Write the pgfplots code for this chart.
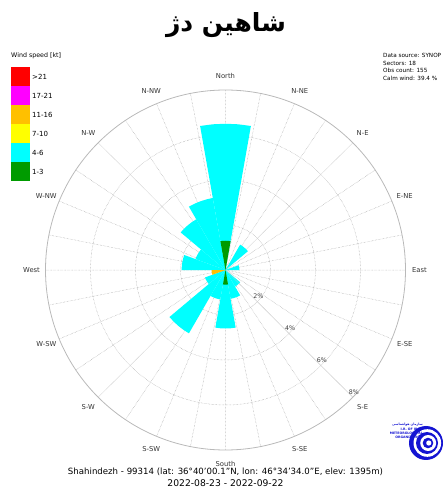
\documentclass[border=0pt]{standalone}
\usepackage{fontspec}
\setmainfont{DejaVu Sans}
\newfontfamily\arabicfont[Script=Arabic]{DejaVu Sans}
\TeXXeTstate=1
\usepackage{pgfplots}
\pgfplotsset{compat=1.18}
\usepgfplotslibrary{polar}
\definecolor{wred}{RGB}{255,0,0}
\definecolor{wmag}{RGB}{255,0,255}
\definecolor{wora}{RGB}{255,192,0}
\definecolor{wyel}{RGB}{255,255,0}
\definecolor{wcya}{RGB}{0,255,255}
\definecolor{wgre}{RGB}{0,155,0}
\definecolor{gridc}{RGB}{160,160,160}
\definecolor{logob}{RGB}{20,20,210}
\begin{document}
\begin{tikzpicture}[x=1pt,y=1pt]
\path[use as bounding box] (0,0) rectangle (443,488);
% title
\node[font={\arabicfont\bfseries\fontsize{25}{28}\selectfont}] at (226,463) {\beginR شاهین دژ\endR};
% legend
\node[anchor=west,font={\fontsize{6.3}{7}\selectfont},inner sep=0pt] at (11,432) {Wind speed [kt]};
\fill[wred] (11,402) rectangle (30,421);
\fill[wmag] (11,383) rectangle (30,402);
\fill[wora] (11,364) rectangle (30,383);
\fill[wyel] (11,345) rectangle (30,364);
\fill[wcya] (11,326) rectangle (30,345);
\fill[wgre] (11,307) rectangle (30,326);
\begin{scope}[every node/.style={anchor=west,font={\fontsize{7}{8}\selectfont},inner sep=0pt}]
\node at (32,411.5) {>21};
\node at (32,392.5) {17-21};
\node at (32,373.5) {11-16};
\node at (32,354.5) {7-10};
\node at (32,335.5) {4-6};
\node at (32,316.5) {1-3};
\end{scope}
% info
\begin{scope}[every node/.style={anchor=west,font={\fontsize{5.7}{6.5}\selectfont},inner sep=0pt}]
\node at (383,432.3) {Data source: SYNOP};
\node at (383,424.7) {Sectors: 18};
\node at (383,417.3) {Obs count: 155};
\node at (383,409.7) {Calm wind: 39.4 \%};
\end{scope}
\begin{polaraxis}[
  at={(225.5pt,218pt)}, anchor=center,
  width=360pt, height=360pt, scale only axis,
  ymin=0, ymax=8, clip=false,
  ytick={2,4,6}, yticklabels={},
  xtick={0,22.5,...,337.5}, xticklabels={},
  minor xtick={11.25,33.75,...,348.75},
  grid=both,
  major grid style={densely dotted, gridc, line width=0.5pt},
  minor grid style={densely dotted, gridc, line width=0.5pt},
  x axis line style={draw=gray!55, line width=0.8pt},
  y axis line style={draw=none},
  tick style={draw=none},
]
% cyan (4-6 kt) totals
\addplot[fill=wcya,draw=none] coordinates {(0,0) (80,0) (80,6.5) (85,6.5) (90,6.5) (95,6.5) (100,6.5) (100,0)};
\addplot[fill=wcya,draw=none] coordinates {(0,0) (40,0) (40,1.3) (45,1.3) (50,1.3) (55,1.3) (60,1.3) (60,0)};
\addplot[fill=wcya,draw=none] coordinates {(0,0) (0,0.62) (5,0.62) (10,0.62) (15,0.62) (20,0.62) (20,0)};
\addplot[fill=wcya,draw=none] coordinates {(-60,0) (-60,0.85) (-55,0.85) (-50,0.85) (-45,0.85) (-40,0.85) (-40,0)};
\addplot[fill=wcya,draw=none] coordinates {(-80,0) (-80,1.3) (-75,1.3) (-70,1.3) (-65,1.3) (-60,1.3) (-60,0)};
\addplot[fill=wcya,draw=none] coordinates {(-100,0) (-100,2.6) (-95,2.6) (-90,2.6) (-85,2.6) (-80,2.6) (-80,0)};
\addplot[fill=wcya,draw=none] coordinates {(-120,0) (-120,1.33) (-115,1.33) (-110,1.33) (-105,1.33) (-100,1.33) (-100,0)};
\addplot[fill=wcya,draw=none] coordinates {(-140,0) (-140,3.25) (-135,3.25) (-130,3.25) (-125,3.25) (-120,3.25) (-120,0)};
\addplot[fill=wcya,draw=none] coordinates {(-160,0) (-160,0.97) (-155,0.97) (-150,0.97) (-145,0.97) (-140,0.97) (-140,0)};
\addplot[fill=wcya,draw=none] coordinates {(160,0) (160,1.95) (165,1.95) (170,1.95) (175,1.95) (180,1.95) (180,0)};
\addplot[fill=wcya,draw=none] coordinates {(140,0) (140,1.42) (145,1.42) (150,1.42) (155,1.42) (160,1.42) (160,0)};
\addplot[fill=wcya,draw=none] coordinates {(120,0) (120,2.6) (125,2.6) (130,2.6) (135,2.6) (140,2.6) (140,0)};
\addplot[fill=wcya,draw=none] coordinates {(100,0) (100,3.25) (105,3.25) (110,3.25) (115,3.25) (120,3.25) (120,0)};
% green (1-3 kt)
\addplot[fill=wgre,draw=none] coordinates {(80,0) (80,1.3) (85,1.3) (90,1.3) (95,1.3) (100,1.3) (100,0)};
\addplot[fill=wgre,draw=none] coordinates {(-100,0) (-100,0.65) (-95,0.65) (-90,0.65) (-85,0.65) (-80,0.65) (-80,0)};
% orange (11-16 kt)
\addplot[fill=wora,draw=none] coordinates {(-180,0) (-180,0.62) (-175,0.62) (-170,0.62) (-165,0.62) (-160,0.62) (-160,0)};
% diagonal scale line and labels
\draw[gray!40, line width=0.3pt] (axis cs:-45,0) -- (axis cs:-45,8);
\begin{scope}[every node/.style={font={\fontsize{6.3}{7}\selectfont},text=black!75,inner sep=0pt,xshift=1pt,yshift=5.3pt}]
\node at (axis cs:-45,2) {2\%};
\node at (axis cs:-45,4) {4\%};
\node at (axis cs:-45,6) {6\%};
\node at (axis cs:-45,8) {8\%};
\end{scope}
% compass labels
\begin{scope}[every node/.style={font={\fontsize{6.8}{8}\selectfont},text=black!80,inner sep=0pt}]
\node at (axis cs:90,8.62) {North};
\node at (axis cs:67.5,8.62) {N-NE};
\node at (axis cs:45,8.62) {N-E};
\node at (axis cs:22.5,8.62) {E-NE};
\node at (axis cs:0,8.62) {East};
\node at (axis cs:-22.5,8.62) {E-SE};
\node at (axis cs:-45,8.62) {S-E};
\node at (axis cs:-67.5,8.62) {S-SE};
\node at (axis cs:-90,8.62) {South};
\node at (axis cs:-112.5,8.62) {S-SW};
\node at (axis cs:-135,8.62) {S-W};
\node at (axis cs:-157.5,8.62) {W-SW};
\node at (axis cs:180,8.62) {West};
\node at (axis cs:157.5,8.62) {W-NW};
\node at (axis cs:135,8.62) {N-W};
\node at (axis cs:112.5,8.62) {N-NW};
\end{scope}
\end{polaraxis}
% bottom text
\node[font={\fontsize{8.6}{10}\selectfont},inner sep=0pt] at (225.5,16) {Shahindezh - 99314 (lat: 36°40'00.1"N, lon: 46°34'34.0"E, elev: 1395m)};
\node[font={\fontsize{9.2}{10}\selectfont},inner sep=0pt] at (225.5,5) {2022-08-23 - 2022-09-22};
% logo
\fill[logob] (426,45) circle (17);
\fill[white] (427.3,45) circle (13.8);
\fill[logob] (427,45) circle (11);
\fill[white] (428.2,45) circle (8);
\fill[logob] (428,45) circle (5.3);
\fill[white] (428.8,45) circle (2.6);
\begin{scope}[every node/.style={anchor=east,font={\bfseries\fontsize{3.2}{3.6}\selectfont},text=logob,inner sep=0pt}]
\node at (423,63) {\arabicfont\beginR سازمان هواشناسی\endR};
\node at (423,59) {I.R. OF IRAN};
\node at (423,55) {METEOROLOGICAL};
\node at (423,51) {ORGANIZATION};
\end{scope}
\end{tikzpicture}
\end{document}
